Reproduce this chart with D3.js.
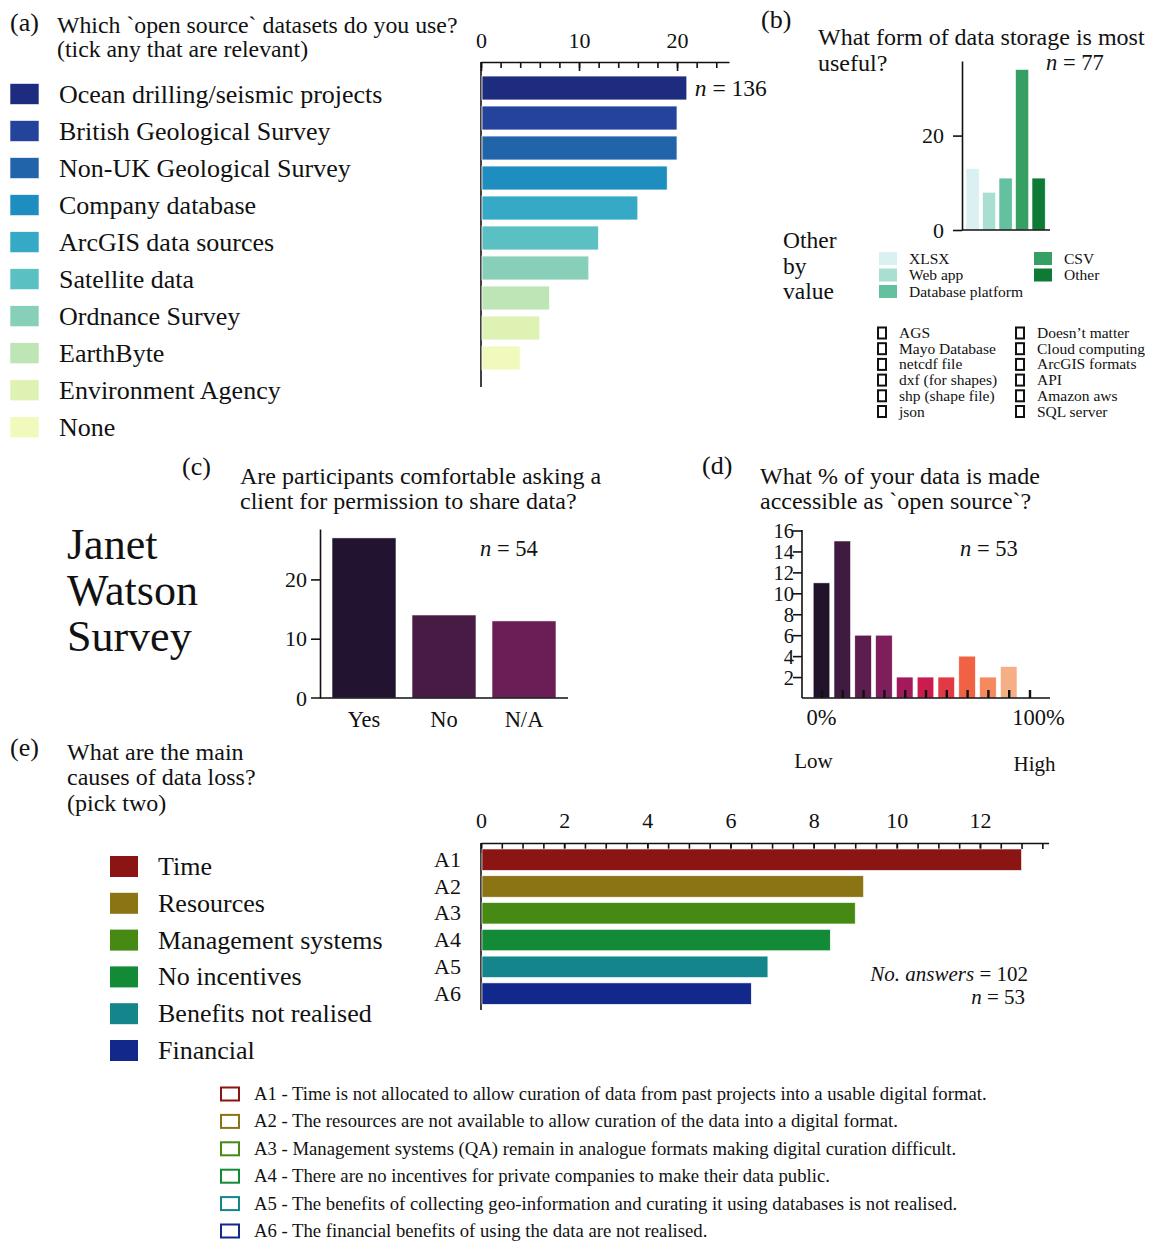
<!DOCTYPE html>
<html>
<head>
<meta charset="utf-8">
<script src="https://cdn.jsdelivr.net/npm/d3@7"></script>
<style>
  html, body { margin: 0; padding: 0; background: #fff; }
  svg text { font-family: "Liberation Serif", "Times New Roman", serif; fill: #111; }
  .domain, .tick line { stroke: #111; }
</style>
</head>
<body>
<svg id="fig" width="1153" height="1242"></svg>
<script>
// ---------- DATA ----------
// (a)
const datasetCategories = ["Ocean drilling/seismic projects", "British Geological Survey", "Non-UK Geological Survey",
  "Company database", "ArcGIS data sources", "Satellite data", "Ordnance Survey", "EarthByte", "Environment Agency", "None"];
const datasetCounts = [21, 20, 20, 19, 16, 12, 11, 7, 6, 4];
const datasetColors = ["#1e2c80", "#24449c", "#2164aa", "#1e8dbf", "#35a9c5", "#5bc0c2", "#87cfb9", "#bde5b5", "#def2b3", "#f1fabc"];
const datasetMajorTicks = [0, 10, 20];
const datasetN = 136;

// (b)
const storageCategories = ["XLSX", "Web app", "Database platform", "CSV", "Other"];
const storageCounts = [13, 8, 11, 34, 11];
const storageColors = ["#daf0f1", "#a9dfd0", "#63c1a0", "#36a064", "#0d7a36"];
const storageTicks = [0, 20];
const storageN = 77;
const otherValuesLeft = ["AGS", "Mayo Database", "netcdf file", "dxf (for shapes)", "shp (shape file)", "json"];
const otherValuesRight = ["Doesn\u2019t matter", "Cloud computing", "ArcGIS formats", "API", "Amazon aws", "SQL server"];

// (c)
const permissionCategories = ["Yes", "No", "N/A"];
const permissionCounts = [27, 14, 13];
const permissionColors = ["#221330", "#481b45", "#6b1e55"];
const permissionTicks = [0, 10, 20];
const permissionN = 54;

// (d)
const openBins = [0, 10, 20, 30, 40, 50, 60, 70, 80, 90];
const openCounts = [11, 15, 6, 6, 2, 2, 2, 4, 2, 3];
const openColors = ["#22132d", "#3f1a41", "#5d1d4e", "#7e1e5b", "#a3195c", "#cb1b4f", "#e23a44", "#ef6243", "#f58a5f", "#f6ae85"];
const openYTicks = [2, 4, 6, 8, 10, 12, 14, 16];
const openXTicks = [0, 10, 20, 30, 40, 50, 60, 70, 80, 90, 100];
const openN = 53;

// (e)
const lossCodes = ["A1", "A2", "A3", "A4", "A5", "A6"];
const lossNames = ["Time", "Resources", "Management systems", "No incentives", "Benefits not realised", "Financial"];
const lossValues = [13.0, 9.2, 9.0, 8.4, 6.9, 6.5];
const lossColors = ["#8b1513", "#8b7413", "#478a13", "#138b36", "#13858b", "#13288b"];
const lossMajorTicks = [0, 2, 4, 6, 8, 10, 12];
const lossDescriptions = [
  "A1 - Time is not allocated to allow curation of data from past projects into a usable digital format.",
  "A2 - The resources are not available to allow curation of the data into a digital format.",
  "A3 - Management systems (QA) remain in analogue formats making digital curation difficult.",
  "A4 - There are no incentives for private companies to make their data public.",
  "A5 - The benefits of collecting geo-information and curating it using databases is not realised.",
  "A6 - The financial benefits of using the data are not realised."
];
const lossAnswers = 102;
const lossN = 53;

// ---------- DRAWING ----------
const svg = d3.select("#fig");

function txt(g, x, y, s, size, opts = {}) {
  const t = g.append("text").attr("x", x).attr("y", y).attr("font-size", size).text(s);
  if (opts.anchor) t.attr("text-anchor", opts.anchor);
  if (opts.italic) t.attr("font-style", "italic");
  return t;
}
function nLabel(g, x, y, value, size, anchor) {
  const t = g.append("text").attr("x", x).attr("y", y).attr("font-size", size);
  if (anchor) t.attr("text-anchor", anchor);
  t.append("tspan").attr("font-style", "italic").text("n");
  t.append("tspan").text(" = " + value);
  return t;
}
function styleAxis(g, width) {
  g.selectAll(".domain").attr("stroke", "#111").attr("stroke-width", width || 1.6);
  g.selectAll(".tick line").attr("stroke", "#111").attr("stroke-width", 1.6);
  g.selectAll(".tick text").attr("fill", "#111").attr("font-family", "Liberation Serif");
}

// ===== (a) =====
{
  const g = svg.append("g");
  txt(g, 10, 31, "(a)", 26);
  txt(g, 57, 33, "Which `open source` datasets do you use?", 23.8);
  txt(g, 57, 57, "(tick any that are relevant)", 23.8);

  const x = d3.scaleLinear().domain([0, 25.3]).range([481, 729]);
  const y = d3.scaleBand().domain(datasetCategories).range([73, 373]).paddingInner(0.2).paddingOuter(0.1);

  const minor = d3.range(0, 25, 2);
  const axMinor = g.append("g").attr("transform", "translate(0,62)")
    .call(d3.axisTop(x).tickValues(minor).tickSizeInner(-6).tickSizeOuter(0).tickFormat(""));
  styleAxis(axMinor);
  const axMajor = g.append("g").attr("transform", "translate(0,62)")
    .call(d3.axisTop(x).tickValues(datasetMajorTicks).tickSizeInner(-9).tickSizeOuter(0).tickPadding(14));
  styleAxis(axMajor);
  axMajor.select(".domain").remove();
  axMajor.selectAll(".tick text").attr("font-size", 22);

  g.append("line").attr("x1", x(0)).attr("x2", x(0)).attr("y1", 62).attr("y2", 387)
    .attr("stroke", "#111").attr("stroke-width", 1.6);

  g.selectAll("rect.bar").data(datasetCounts).join("rect").attr("class", "bar")
    .attr("x", x(0) + 1).attr("y", (d, i) => y(datasetCategories[i]))
    .attr("width", d => x(d) - x(0) - 1).attr("height", y.bandwidth())
    .attr("fill", (d, i) => datasetColors[i]).attr("stroke", "#fff").attr("stroke-width", 0.8);

  nLabel(g, x(datasetCounts[0]) + 8, y(datasetCategories[0]) + y.bandwidth() / 2 + 8, datasetN, 23.5);

  // legend
  const ly = d3.scaleLinear().domain([0, 9]).range([83.5, 416.8]);
  datasetCategories.forEach((c, i) => {
    g.append("rect").attr("x", 10).attr("y", ly(i)).attr("width", 29).attr("height", 21)
      .attr("fill", datasetColors[i]).attr("stroke", "#fff").attr("stroke-width", 0.6);
    txt(g, 59, ly(i) + 19, c, 26);
  });
}

// ===== (b) =====
{
  const g = svg.append("g");
  txt(g, 761, 28, "(b)", 26);
  txt(g, 818, 45, "What form of data storage is most", 24);
  txt(g, 818, 71, "useful?", 24);

  const y = d3.scaleLinear().domain([0, 35.8]).range([230, 61]);
  const x = d3.scaleBand().domain(storageCategories).range([962.7, 1048.5]).paddingInner(0.2).paddingOuter(0.2);

  g.selectAll("rect.bar").data(storageCounts).join("rect").attr("class", "bar")
    .attr("x", (d, i) => x(storageCategories[i])).attr("y", d => y(d))
    .attr("width", x.bandwidth()).attr("height", d => y(0) - y(d))
    .attr("fill", (d, i) => storageColors[i]).attr("stroke", "#fff").attr("stroke-width", 0.6);

  const ay = g.append("g").attr("transform", "translate(962,0)")
    .call(d3.axisLeft(y).tickValues(storageTicks).tickSizeInner(9).tickSizeOuter(0).tickPadding(9));
  styleAxis(ay);
  ay.selectAll(".tick text").attr("font-size", 22);
  g.append("line").attr("x1", 962).attr("x2", 1050).attr("y1", y(0)).attr("y2", y(0))
    .attr("stroke", "#111").attr("stroke-width", 1.6);

  nLabel(g, 1046, 70, storageN, 22.5);

  txt(g, 783, 248, "Other", 23.5);
  txt(g, 783, 274, "by", 23.5);
  txt(g, 783, 299, "value", 23.5);

  // colour legend
  const legRows = [[0, 0], [0, 1], [0, 2], [1, 0], [1, 1]];
  storageCategories.forEach((c, i) => {
    const col = legRows[i][0], row = legRows[i][1];
    const sx = col ? 1034 : 879, sy = 252 + row * 16.5;
    g.append("rect").attr("x", sx).attr("y", sy).attr("width", 18).attr("height", 13).attr("fill", storageColors[i]);
    txt(g, sx + 30, sy + 11.5, c, 15.5);
  });

  // other values legend
  [otherValuesLeft, otherValuesRight].forEach((list, col) => {
    list.forEach((s, i) => {
      const sx = col ? 1016 : 878, cy = 333 + i * 15.7;
      g.append("rect").attr("x", sx).attr("y", cy - 5.5).attr("width", 8).attr("height", 11)
        .attr("fill", "none").attr("stroke", "#111").attr("stroke-width", 2);
      txt(g, col ? 1037 : 899, cy + 5, s, 15.5);
    });
  });
}

// ===== (c) =====
{
  const g = svg.append("g");
  txt(g, 182, 475, "(c)", 26);
  txt(g, 240, 484, "Are participants comfortable asking a", 24);
  txt(g, 240, 509, "client for permission to share data?", 24);

  txt(g, 67, 559, "Janet", 44);
  txt(g, 67, 605, "Watson", 44);
  txt(g, 67, 651, "Survey", 44);

  const y = d3.scaleLinear().domain([0, 28.5]).range([698, 529]);
  const x = d3.scaleBand().domain(permissionCategories).range([320, 568]).paddingInner(0.2).paddingOuter(0.15);

  g.selectAll("rect.bar").data(permissionCounts).join("rect").attr("class", "bar")
    .attr("x", (d, i) => x(permissionCategories[i])).attr("y", d => y(d))
    .attr("width", x.bandwidth()).attr("height", d => y(0) - y(d))
    .attr("fill", (d, i) => permissionColors[i]).attr("stroke", "#fff").attr("stroke-width", 0.6);

  const ay = g.append("g").attr("transform", "translate(320,0)")
    .call(d3.axisLeft(y).tickValues(permissionTicks).tickSizeInner(9).tickSizeOuter(0).tickPadding(4));
  styleAxis(ay);
  ay.selectAll(".tick text").attr("font-size", 22);
  ay.select(".tick:first-of-type line").remove();

  const ax = g.append("g").attr("transform", "translate(0,698)")
    .call(d3.axisBottom(x).tickSizeInner(0).tickSizeOuter(0).tickPadding(8));
  styleAxis(ax);
  ax.select(".domain").attr("d", "M311,0H568");
  ax.selectAll(".tick text").attr("font-size", 22.5).attr("dy", "0.95em");

  nLabel(g, 480, 556, permissionN, 22.5);
}

// ===== (d) =====
{
  const g = svg.append("g");
  txt(g, 702, 474, "(d)", 26);
  txt(g, 760, 484, "What % of your data is made", 24);
  txt(g, 760, 509, "accessible as `open source`?", 24);

  const y = d3.scaleLinear().domain([0, 16]).range([698, 530.5]);
  const x = d3.scaleLinear().domain([0, 100]).range([821.5, 1029.5]);
  const bw = x(8) - x(0);

  g.selectAll("rect.bar").data(openCounts).join("rect").attr("class", "bar")
    .attr("x", (d, i) => x(openBins[i]) - bw / 2).attr("y", d => y(d))
    .attr("width", bw).attr("height", d => y(0) - y(d))
    .attr("fill", (d, i) => openColors[i]).attr("stroke", "#fff").attr("stroke-width", 0.6);

  const ay = g.append("g").attr("transform", "translate(802,0)")
    .call(d3.axisLeft(y).tickValues(openYTicks).tickSizeInner(9).tickSizeOuter(0).tickPadding(-1));
  styleAxis(ay);
  ay.select(".domain").attr("d", "M0,530H0V698");
  ay.selectAll(".tick text").attr("font-size", 20.5).attr("dy", "0.34em");

  const ax = g.append("g").attr("transform", "translate(0,698)")
    .call(d3.axisBottom(x).tickValues(openXTicks).tickSizeInner(-8).tickSizeOuter(0).tickFormat(""));
  styleAxis(ax);
  ax.selectAll(".tick line").attr("stroke-width", 2.4);
  ax.select(".domain").attr("d", "M802,0H1050");

  txt(g, x(0), 725, "0%", 22.5, { anchor: "middle" });
  txt(g, x(100) + 9, 725, "100%", 22.5, { anchor: "middle" });
  txt(g, x(0) - 8, 768, "Low", 21, { anchor: "middle" });
  txt(g, x(100) + 5, 771, "High", 21, { anchor: "middle" });

  nLabel(g, 960, 556, openN, 22.5);
}

// ===== (e) =====
{
  const g = svg.append("g");
  txt(g, 10, 756, "(e)", 26);
  txt(g, 67, 760, "What are the main", 24);
  txt(g, 67, 785, "causes of data loss?", 24);
  txt(g, 67, 811, "(pick two)", 24);

  const x = d3.scaleLinear().domain([0, 13.65]).range([481, 481 + 13.65 * 41.58]);
  const y = d3.scaleBand().domain(lossCodes).range([846.3, 1007]).paddingInner(0.2).paddingOuter(0.1);

  const minor = d3.range(0, 13.6, 0.5);
  const axMinor = g.append("g").attr("transform", "translate(0,843)")
    .call(d3.axisTop(x).tickValues(minor).tickSizeInner(-6).tickSizeOuter(0).tickFormat(""));
  styleAxis(axMinor);
  const axMajor = g.append("g").attr("transform", "translate(0,843)")
    .call(d3.axisTop(x).tickValues(lossMajorTicks).tickSizeInner(-10).tickSizeOuter(0).tickPadding(15));
  styleAxis(axMajor);
  axMajor.select(".domain").remove();
  axMajor.selectAll(".tick text").attr("font-size", 22);

  const ay = g.append("g").attr("transform", "translate(481,0)")
    .call(d3.axisLeft(y).tickSizeInner(0).tickSizeOuter(0).tickPadding(20));
  styleAxis(ay);
  ay.select(".domain").attr("d", "M0,843V1010");
  ay.selectAll(".tick text").attr("font-size", 22);

  g.selectAll("rect.bar").data(lossValues).join("rect").attr("class", "bar")
    .attr("x", x(0) + 1).attr("y", (d, i) => y(lossCodes[i]))
    .attr("width", d => x(d) - x(0) - 1).attr("height", y.bandwidth())
    .attr("fill", (d, i) => lossColors[i]).attr("stroke", "#fff").attr("stroke-width", 0.6);

  const t1 = g.append("text").attr("x", 1028).attr("y", 981).attr("font-size", 21).attr("text-anchor", "end");
  t1.append("tspan").attr("font-style", "italic").text("No. answers");
  t1.append("tspan").text(" = " + lossAnswers);
  nLabel(g, 1025, 1004, lossN, 21, "end");

  // legend with names
  const ly = d3.scaleLinear().domain([0, 5]).range([856, 1040]);
  lossNames.forEach((s, i) => {
    g.append("rect").attr("x", 110).attr("y", ly(i)).attr("width", 28).attr("height", 21).attr("fill", lossColors[i]);
    txt(g, 158, ly(i) + 19, s, 26);
  });

  // description legend
  const dy = d3.scaleLinear().domain([0, 5]).range([1094, 1231]);
  const dg = g.append("g");
  lossDescriptions.forEach((s, i) => {
    dg.append("rect").attr("x", 221).attr("y", dy(i) - 6.5).attr("width", 18).attr("height", 13)
      .attr("fill", "none").attr("stroke", lossColors[i]).attr("stroke-width", 2);
  });
  const tg = dg.append("g");
  const texts = lossDescriptions.map((s, i) => txt(tg, 0, dy(i) + 6, s, 18.5));
  const w = texts[0].node().getComputedTextLength();
  const k = 733 / w;
  tg.attr("transform", `translate(254,0) scale(${k},1)`);
}
</script>
</body>
</html>
